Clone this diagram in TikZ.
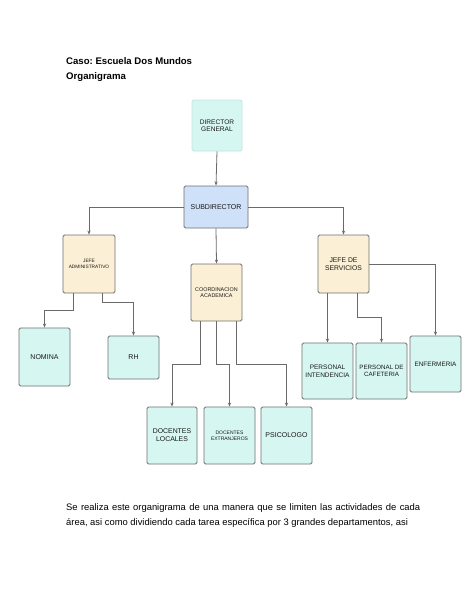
\documentclass[tikz,border=0pt]{standalone}
\usepackage{fontspec}
\setmainfont{Liberation Sans}
\newfontfamily\boxfont{Liberation Sans}
\usetikzlibrary{arrows.meta}
\frenchspacing
\definecolor{cyanfill}{HTML}{D6F6F1}
\definecolor{cyanedge}{HTML}{C2E6E0}
\definecolor{bluefill}{HTML}{CFE1F8}
\definecolor{creamfill}{HTML}{FBF0D5}
\definecolor{edgegray}{HTML}{707070}
\definecolor{linegray}{HTML}{6A6A6A}
\tikzset{
  orgbox/.style={draw=edgegray, line width=0.9pt, rounded corners=1.5pt, inner sep=0pt,
    align=center, font=\boxfont, text=black!90},
  leafbox/.style={orgbox, fill=cyanfill},
  headbox/.style={orgbox, fill=creamfill},
  topbox/.style={orgbox, fill=cyanfill, draw=cyanedge},
  subbox/.style={orgbox, fill=bluefill},
  conn/.style={draw=linegray, line width=0.8pt, -{Stealth[length=4pt,width=3.2pt]}},
}
\begin{document}
\begin{tikzpicture}[x=1pt,y=-1pt]
\fill[white] (0,0) rectangle (474,613);
\useasboundingbox (0,0) rectangle (474,613);

% titles
\node[anchor=base west, inner sep=0pt, font=\fontsize{9.6}{11}\selectfont\bfseries] (t1) at (66,64) {Caso: Escuela Dos Mundos};
\node[anchor=base west, inner sep=0pt, font=\fontsize{9.6}{11}\selectfont\bfseries] (t2) at (66,79) {Organigrama};

% boxes
\node[topbox, minimum width=50pt, minimum height=51pt, font=\boxfont\fontsize{6.6}{7.4}\selectfont] (dir) at (217,125.5) {DIRECTOR\\GENERAL};
\node[subbox, minimum width=64pt, minimum height=42pt, font=\boxfont\fontsize{7}{8}\selectfont] (sub) at (216,207) {SUBDIRECTOR};
\node[headbox, minimum width=52pt, minimum height=58pt, font=\boxfont\fontsize{4.8}{5.6}\selectfont] (jadm) at (89,264) {JEFE\\ADMINISTRATIVO};
\node[headbox, minimum width=51pt, minimum height=58pt, font=\boxfont\fontsize{6.8}{7.8}\selectfont] (jser) at (343.5,264) {JEFE DE\\SERVICIOS};
\node[headbox, minimum width=51pt, minimum height=57pt, font=\boxfont\fontsize{5.4}{6.2}\selectfont] (coord) at (216.5,292.5) {COORDINACION\\ACADEMICA};

\node[leafbox, minimum width=51pt, minimum height=58pt, font=\boxfont\fontsize{7}{8}\selectfont] (nom) at (44.5,357) {NOMINA};
\node[leafbox, minimum width=51pt, minimum height=43pt, font=\boxfont\fontsize{7}{8}\selectfont] (rh) at (133.5,357.5) {RH};

\node[leafbox, minimum width=50pt, minimum height=57pt, font=\boxfont\fontsize{6.9}{8}\selectfont] (dl) at (172,435.5) {DOCENTES\\LOCALES};
\node[leafbox, minimum width=51pt, minimum height=57pt, font=\boxfont\fontsize{5}{6}\selectfont] (de) at (229.5,435.5) {DOCENTES\\EXTRANJEROS};
\node[leafbox, minimum width=51pt, minimum height=57pt, font=\boxfont\fontsize{7}{8}\selectfont] (psi) at (286.5,435.5) {PSICOLOGO};

\node[leafbox, minimum width=51pt, minimum height=56pt, font=\boxfont\fontsize{6.5}{7.6}\selectfont] (pi) at (327.5,371) {PERSONAL\\INTENDENCIA};
\node[leafbox, minimum width=51pt, minimum height=56pt, font=\boxfont\fontsize{6.2}{7.4}\selectfont] (pc) at (381.5,371) {PERSONAL DE\\CAFETERIA};
\node[leafbox, minimum width=51pt, minimum height=56pt, font=\boxfont\fontsize{6.4}{7.4}\selectfont] (enf) at (435.5,364) {ENFERMERIA};

% connectors
\draw[conn] (dir.south) -- (sub.north);
\draw[conn] (sub.west) -| (jadm.north);
\draw[conn] (sub.east) -| (jser.north);
\draw[conn] (sub.south) -- (coord.north);

\draw[conn] ([xshift=-16pt]jadm.south) -- ++(0,17) -| (nom.north);
\draw[conn] ([xshift=13pt]jadm.south) -- ++(0,9) -| (rh.north);

\draw[conn] ([xshift=-16.5pt]coord.south) -- ++(0,43) -| (dl.north);
\draw[conn] (coord.south) -- ++(0,43) -| (de.north);
\draw[conn] ([xshift=20pt]coord.south) -- ++(0,43) -| (psi.north);

\draw[conn] ([xshift=-16pt]jser.south) -- (pi.north);
\draw[conn] ([xshift=13.5pt]jser.south) -- ++(0,24) -| (pc.north);
\draw[conn] (jser.east) -| (enf.north);

% paragraph
\node[anchor=north west, inner sep=0pt, text width=354pt, align=justify,
  font=\fontsize{9.4}{15}\selectfont] (para) at (66,503)
  {Se realiza este organigrama de una manera que se limiten las actividades de cada \'area, asi como dividiendo cada tarea espec\'ifica por 3 grandes departamentos, asi\hfill\null};
\end{tikzpicture}
\end{document}
